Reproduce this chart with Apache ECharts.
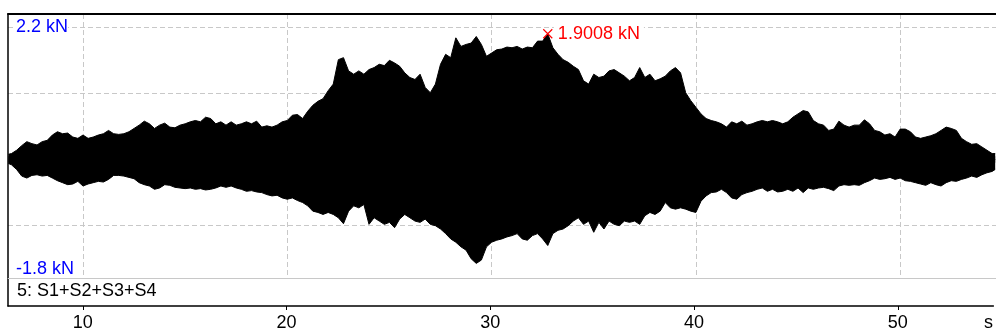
<!DOCTYPE html>
<html>
<head>
<meta charset="utf-8">
<script src="https://cdn.jsdelivr.net/npm/echarts@6/dist/echarts.min.js"></script>
<style>
html,body{margin:0;padding:0;background:#fff;}
#chart{width:996px;height:332px;}
</style>
</head>
<body>
<div id="chart"></div>
<script>
// ---- data ----
const channelName = '5: S1+S2+S3+S4';
const unitX = 's';
const unitY = 'kN';
const xTicks = [10, 20, 30, 40, 50];
const yGrid = [-1, 0, 1, 2];
const yLabels = [2.2, -1.8];

// time (s) of each envelope sample
const time = [
  6.35, 6.5, 6.75,
  7, 7.25, 7.5, 7.75,  8, 8.25, 8.5, 8.75,  9, 9.25, 9.5, 9.75,
  10, 10.25, 10.5, 10.75,  11, 11.25, 11.5, 11.75,  12, 12.25, 12.5, 12.75,
  13, 13.25, 13.5, 13.75,  14, 14.25, 14.5, 14.75,  15, 15.25, 15.5, 15.75,
  16, 16.25, 16.5, 16.75,  17, 17.25, 17.5, 17.75,  18, 18.25, 18.5, 18.75,
  19, 19.25, 19.5, 19.75,  20, 20.25, 20.5, 20.75,  21, 21.25, 21.5, 21.75,
  22, 22.25, 22.5, 22.75,  23, 23.25, 23.5, 23.75,  24, 24.25, 24.5, 24.75,
  25, 25.25, 25.5, 25.75,  26, 26.25, 26.5, 26.75,  27, 27.25, 27.5, 27.75,
  28, 28.25, 28.5, 28.75,  29, 29.25, 29.5, 29.75,  30, 30.25, 30.5, 30.75,
  31, 31.25, 31.5, 31.75,  32, 32.25, 32.5, 32.75,  33, 33.25, 33.5, 33.75,
  34, 34.25, 34.5, 34.75,  35, 35.25, 35.5, 35.75,  36, 36.25, 36.5, 36.75,
  37, 37.25, 37.5, 37.75,  38, 38.25, 38.5, 38.75,  39, 39.25, 39.5, 39.75,
  40, 40.25, 40.5, 40.75,  41, 41.25, 41.5, 41.75,  42, 42.25, 42.5, 42.75,
  43, 43.25, 43.5, 43.75,  44, 44.25, 44.5, 44.75,  45, 45.25, 45.5, 45.75,
  46, 46.25, 46.5, 46.75,  47, 47.25, 47.5, 47.75,  48, 48.25, 48.5, 48.75,
  49, 49.25, 49.5, 49.75,  50, 50.25, 50.5, 50.75,  51, 51.25, 51.5, 51.75,
  52, 52.25, 52.5, 52.75,  53, 53.25, 53.5, 53.75,  54, 54.25, 54.5, 54.65
];

// upper envelope of the force signal (kN)
const upper = [
  0.08, 0.09, 0.14,
  0.21, 0.27, 0.24, 0.22,  0.27, 0.29, 0.37, 0.42,  0.39, 0.40, 0.34, 0.32,
  0.37, 0.32, 0.34, 0.37,  0.39, 0.44, 0.39, 0.38,  0.39, 0.42, 0.47, 0.52,
  0.58, 0.54, 0.47, 0.52,  0.55, 0.49, 0.48, 0.52,  0.54, 0.57, 0.59, 0.57,
  0.64, 0.62, 0.54, 0.57,  0.52, 0.57, 0.52, 0.54,  0.57, 0.54, 0.58, 0.49,
  0.51, 0.49, 0.52, 0.57,  0.59, 0.67, 0.68, 0.62,  0.73, 0.82, 0.88, 0.92,
  1.04, 1.14, 1.51, 1.54,  1.34, 1.29, 1.34, 1.29,  1.36, 1.39, 1.44, 1.42,
  1.50, 1.46, 1.41, 1.31,  1.24, 1.21, 1.29, 1.09,  1.01, 1.14, 1.44, 1.59,
  1.54, 1.84, 1.71, 1.74,  1.76, 1.86, 1.74, 1.56,  1.61, 1.66, 1.67, 1.70,
  1.69, 1.71, 1.67, 1.70,  1.69, 1.79, 1.79, 1.9008,  1.69, 1.59, 1.51, 1.47,
  1.41, 1.36, 1.19, 1.14,  1.29, 1.24, 1.26, 1.34,  1.36, 1.31, 1.26, 1.19,
  1.24, 1.39, 1.24, 1.29,  1.19, 1.22, 1.26, 1.34,  1.39, 1.31, 1.01, 0.89,
  0.79, 0.69, 0.62, 0.59,  0.57, 0.54, 0.49, 0.57,  0.54, 0.58, 0.52, 0.54,
  0.57, 0.59, 0.57, 0.59,  0.57, 0.54, 0.57, 0.64,  0.69, 0.74, 0.72, 0.59,
  0.54, 0.52, 0.44, 0.46,  0.58, 0.52, 0.49, 0.52,  0.52, 0.60, 0.54, 0.44,
  0.42, 0.37, 0.39, 0.34,  0.46, 0.46, 0.42, 0.34,  0.32, 0.34, 0.36, 0.39,
  0.44, 0.49, 0.47, 0.44,  0.32, 0.27, 0.23, 0.24,  0.19, 0.14, 0.09, 0.09
];

// lower envelope of the force signal (kN)
const lower = [
  -0.06, -0.08, -0.15,
  -0.25, -0.28, -0.24, -0.23,  -0.25, -0.24, -0.28, -0.32,  -0.35, -0.38, -0.37, -0.33,
  -0.40, -0.37, -0.35, -0.33,  -0.34, -0.30, -0.24, -0.24,  -0.25, -0.27, -0.29, -0.35,
  -0.38, -0.40, -0.45, -0.43,  -0.38, -0.39, -0.42, -0.43,  -0.44, -0.43, -0.45, -0.44,
  -0.46, -0.45, -0.43, -0.40,  -0.42, -0.40, -0.43, -0.45,  -0.48, -0.47, -0.49, -0.50,
  -0.53, -0.55, -0.54, -0.58,  -0.60, -0.58, -0.62, -0.65,  -0.70, -0.78, -0.80, -0.83,
  -0.80, -0.83, -0.88, -0.97,  -0.78, -0.70, -0.73, -0.68,  -0.98, -0.88, -0.93, -0.98,
  -0.95, -1.03, -0.90, -0.83,  -0.88, -0.93, -0.95, -0.90,  -0.98, -1.00, -1.05, -1.12,
  -1.20, -1.25, -1.32, -1.37,  -1.50, -1.57, -1.52, -1.32,  -1.25, -1.22, -1.20, -1.17,
  -1.15, -1.12, -1.20, -1.22,  -1.15, -1.12, -1.20, -1.30,  -1.12, -1.07, -1.05, -1.00,
  -0.93, -0.88, -0.98, -0.93,  -1.10, -0.95, -1.05, -0.93,  -0.98, -1.00, -0.93, -0.95,
  -0.93, -0.98, -0.85, -0.80,  -0.83, -0.78, -0.65, -0.73,  -0.75, -0.73, -0.75, -0.78,
  -0.80, -0.63, -0.55, -0.50,  -0.49, -0.45, -0.50, -0.58,  -0.60, -0.53, -0.50, -0.48,
  -0.45, -0.43, -0.48, -0.45,  -0.49, -0.48, -0.45, -0.48,  -0.43, -0.50, -0.43, -0.45,
  -0.43, -0.42, -0.44, -0.47,  -0.40, -0.38, -0.39, -0.38,  -0.39, -0.35, -0.32, -0.28,
  -0.30, -0.29, -0.27, -0.30,  -0.28, -0.32, -0.33, -0.35,  -0.37, -0.39, -0.35, -0.38,
  -0.40, -0.35, -0.32, -0.33,  -0.30, -0.28, -0.25, -0.27,  -0.23, -0.20, -0.18, -0.15
];

// ---- chart ----
const FONT = '"Liberation Sans", Arial, sans-serif';
const GRID_COLOR = '#c8c8c8';
const X_MIN = 6.329, X_MAX = 54.69;
const Y_MIN = -1.8, Y_MAX = 2.2;

const upperData = time.map((t, i) => [t, upper[i]]);
const lowerData = time.map((t, i) => [t, lower[i]]);

const chart = echarts.init(document.getElementById('chart'), null, {renderer: 'canvas'});
chart.setOption({
  animation: false,
  backgroundColor: '#fff',
  textStyle: {fontFamily: FONT},
  title: {
    text: channelName,
    left: 17, top: 282, padding: 0,
    textStyle: {fontSize: 18, fontWeight: 'normal', color: '#000', fontFamily: FONT}
  },
  grid: [
    {left: 8, right: 0, top: 10.6, height: 268},
    {left: 8, right: 0, top: 278.6, height: 27.4}
  ],
  xAxis: [
    { // data grid, bottom (gray separator + vertical dashed grid)
      type: 'value', gridIndex: 0, min: X_MIN, max: X_MAX, position: 'bottom',
      axisLine: {show: true, onZero: false, lineStyle: {color: GRID_COLOR, width: 1}},
      axisTick: {show: false, customValues: xTicks},
      axisLabel: {show: false},
      splitLine: {show: true, lineStyle: {color: GRID_COLOR, width: 1, type: [5, 3]}}
    },
    { // data grid, top border
      type: 'value', gridIndex: 0, min: X_MIN, max: X_MAX, position: 'top',
      axisLine: {show: true, onZero: false, lineStyle: {color: '#000', width: 2}},
      axisTick: {show: false}, axisLabel: {show: false}, splitLine: {show: false}
    },
    { // time axis
      type: 'value', gridIndex: 1, min: X_MIN, max: X_MAX, position: 'bottom',
      axisLine: {show: true, onZero: false, lineStyle: {color: '#000', width: 1.5}},
      axisTick: {show: true, length: 4, customValues: xTicks, lineStyle: {color: '#000', width: 1}},
      axisLabel: {
        show: true, margin: 8, fontSize: 18, color: '#000', fontFamily: FONT,
        customValues: xTicks.concat([54.45]),
        formatter: v => (xTicks.indexOf(v) >= 0 ? String(v) : unitX)
      },
      splitLine: {show: false}
    }
  ],
  yAxis: [
    {
      type: 'value', gridIndex: 0, min: Y_MIN, max: Y_MAX,
      axisLine: {show: true, onZero: false, lineStyle: {color: '#000', width: 1.5}},
      axisTick: {show: false, customValues: yGrid},
      splitLine: {show: true, lineStyle: {color: GRID_COLOR, width: 1, type: [5, 3]}},
      axisLabel: {
        show: true, inside: true, margin: 8,
        customValues: yLabels,
        formatter: v => v > 0
          ? '{gT| }\n{lab|' + v + ' ' + unitY + '}'
          : '{lab|' + v + ' ' + unitY + '}\n{gB| }',
        rich: {
          gT: {lineHeight: 27, fontSize: 10},
          gB: {lineHeight: 19, fontSize: 10},
          lab: {lineHeight: 18, fontSize: 18, color: '#0000ff', backgroundColor: '#fff', fontFamily: FONT}
        }
      }
    },
    {
      type: 'value', gridIndex: 1, min: 0, max: 1,
      axisLine: {show: true, onZero: false, lineStyle: {color: '#000', width: 1.5}},
      axisTick: {show: false}, axisLabel: {show: false}, splitLine: {show: false}
    }
  ],
  series: [
    {
      name: channelName, type: 'line', xAxisIndex: 0, yAxisIndex: 0,
      data: upperData, symbol: 'none', silent: true, z: 3,
      lineStyle: {color: '#000', width: 1},
      areaStyle: {color: '#000', opacity: 1, origin: -0.05},
      markPoint: {
        silent: true,
        symbol: 'path://M0 0L10 10M10 0L0 10',
        symbolSize: 9,
        itemStyle: {color: 'rgba(0,0,0,0)', borderColor: '#ff0000', borderWidth: 1.2},
        label: {
          show: true, position: 'right', distance: 1,
          formatter: p => p.value.toFixed(4) + ' ' + unitY,
          color: '#ff0000', fontSize: 18, fontFamily: FONT,
          backgroundColor: '#fff', padding: [1, 4, 1, 4]
        },
        data: [{type: 'max', valueDim: 'y'}]
      }
    },
    {
      name: channelName, type: 'line', xAxisIndex: 0, yAxisIndex: 0,
      data: lowerData, symbol: 'none', silent: true, z: 3,
      lineStyle: {color: '#000', width: 1},
      areaStyle: {color: '#000', opacity: 1, origin: 0.05}
    }
  ]
});
</script>
</body>
</html>
